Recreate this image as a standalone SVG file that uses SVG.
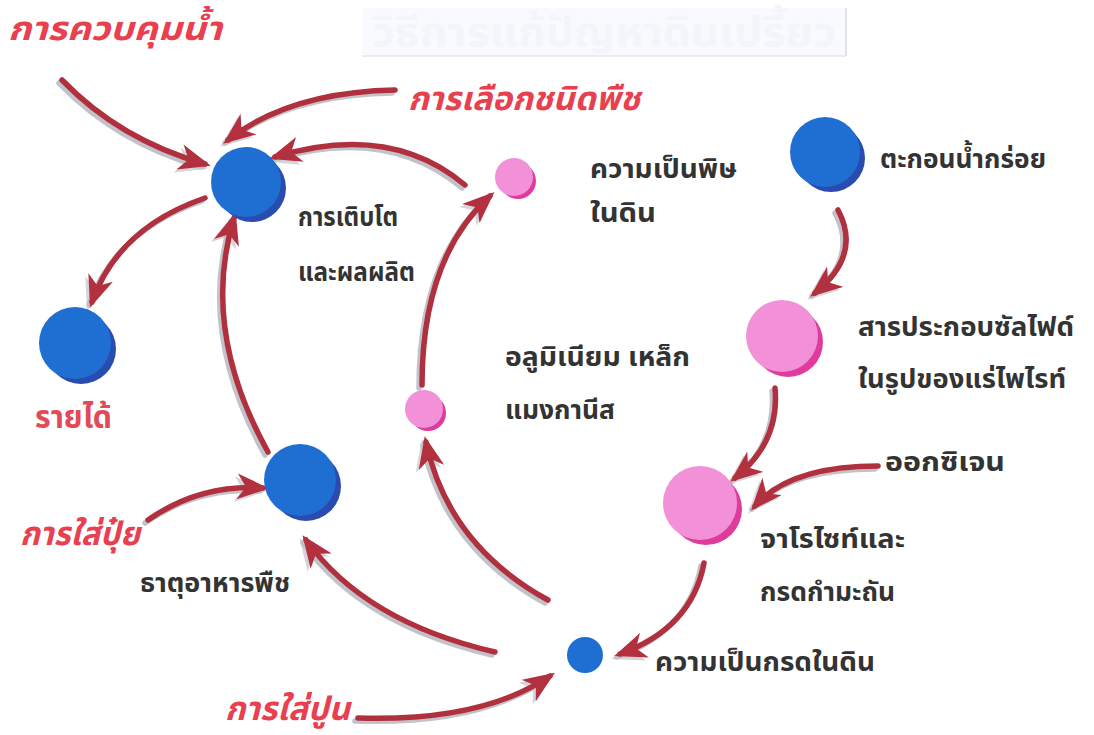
<svg xmlns="http://www.w3.org/2000/svg" width="1094" height="735" viewBox="0 0 1094 735">
<style>
.lbl{font-family:"Noto Sans Thai","Noto Serif Thai","Loma","Garuda","DejaVu Sans",sans-serif;font-size:27px;font-weight:bold;fill:#333333}
.red{font-family:"Noto Sans Thai","Loma","Garuda","DejaVu Sans",sans-serif;font-size:33px;font-weight:bold;font-style:italic;fill:#e8404f}
.redn{font-family:"Noto Sans Thai","Loma","Garuda","DejaVu Sans",sans-serif;font-size:31px;font-weight:bold;fill:#e24a55}
.title{font-family:"Noto Sans Thai","Loma","DejaVu Sans",sans-serif;font-size:40px;font-weight:bold;fill:#f3f5fa}
.arr{fill:none;stroke:#b0303e;stroke-width:5.5;stroke-linecap:round}
.sh{fill:none;stroke:#a9a9b6;stroke-width:5.5;stroke-linecap:round;opacity:0.7}
.bm{fill:#1f6fd2}.bs{fill:#2a4bb0}
.pm{fill:#f290d8}.ps{fill:#df3b9c}
</style>
<defs>
<marker id="ah" viewBox="0 0 32 26" refX="26" refY="13" markerWidth="32" markerHeight="26" markerUnits="userSpaceOnUse" orient="auto">
<path d="M0,0 L32,13 L0,26 L9,13 Z" fill="#b3303e"/>
</marker>
<marker id="ahs" viewBox="0 0 32 26" refX="26" refY="13" markerWidth="32" markerHeight="26" markerUnits="userSpaceOnUse" orient="auto">
<path d="M0,0 L32,13 L0,26 L9,13 Z" fill="#a9a9b6" opacity="0.7"/>
</marker>
</defs>
<rect width="1094" height="735" fill="#ffffff"/>
<g id="title">
<rect x="362" y="8" width="484" height="48" fill="#f8fafd"/>
<line x1="362" y1="56" x2="846" y2="56" stroke="#e4e6ee" stroke-width="1.5"/>
<line x1="846" y1="8" x2="846" y2="56" stroke="#d8dae2" stroke-width="1.5"/>
<text class="title" x="372" y="46" textLength="464" lengthAdjust="spacingAndGlyphs">วิธีการแก้ปัญหาดินเปรี้ยว</text>
</g>
<g id="connectors">
<g transform="translate(-3,3)">
<path class="sh" marker-end="url(#ahs)" d="M62,80 Q120,140 205,164"/>
<path class="sh" marker-end="url(#ahs)" d="M395,90 Q290,92 228,140"/>
<path class="sh" marker-end="url(#ahs)" d="M465,185 Q390,122 275,157"/>
<path class="sh" marker-end="url(#ahs)" d="M205,198 Q118,228 92,302"/>
<path class="sh" marker-end="url(#ahs)" d="M268,452 Q200,330 234,218"/>
<path class="sh" marker-end="url(#ahs)" d="M422,385 Q422,258 490,196"/>
<path class="sh" marker-end="url(#ahs)" d="M548,600 Q448,545 426,442"/>
<path class="sh" marker-end="url(#ahs)" d="M495,652 Q365,622 306,540"/>
<path class="sh" marker-end="url(#ahs)" d="M148,520 Q200,484 263,488"/>
<path class="sh" marker-end="url(#ahs)" d="M358,718 Q482,722 550,676"/>
<path class="sh" marker-end="url(#ahs)" d="M838,210 Q862,255 815,293"/>
<path class="sh" marker-end="url(#ahs)" d="M775,388 Q780,442 735,478"/>
<path class="sh" marker-end="url(#ahs)" d="M878,466 Q790,466 755,506"/>
<path class="sh" marker-end="url(#ahs)" d="M704,563 Q692,628 620,654"/>
</g>
<path class="arr" marker-end="url(#ah)" d="M62,80 Q120,140 205,164"/>
<path class="arr" marker-end="url(#ah)" d="M395,90 Q290,92 228,140"/>
<path class="arr" marker-end="url(#ah)" d="M465,185 Q390,122 275,157"/>
<path class="arr" marker-end="url(#ah)" d="M205,198 Q118,228 92,302"/>
<path class="arr" marker-end="url(#ah)" d="M268,452 Q200,330 234,218"/>
<path class="arr" marker-end="url(#ah)" d="M422,385 Q422,258 490,196"/>
<path class="arr" marker-end="url(#ah)" d="M548,600 Q448,545 426,442"/>
<path class="arr" marker-end="url(#ah)" d="M495,652 Q365,622 306,540"/>
<path class="arr" marker-end="url(#ah)" d="M148,520 Q200,484 263,488"/>
<path class="arr" marker-end="url(#ah)" d="M358,718 Q482,722 550,676"/>
<path class="arr" marker-end="url(#ah)" d="M838,210 Q862,255 815,293"/>
<path class="arr" marker-end="url(#ah)" d="M775,388 Q780,442 735,478"/>
<path class="arr" marker-end="url(#ah)" d="M878,466 Q790,466 755,506"/>
<path class="arr" marker-end="url(#ah)" d="M704,563 Q692,628 620,654"/>
</g>
<g id="n-water"><text class="red" x="8" y="40" textLength="214" lengthAdjust="spacingAndGlyphs">การควบคุมน้ำ</text></g>
<g id="n-crop"><text class="red" x="408" y="110" textLength="232" lengthAdjust="spacingAndGlyphs">การเลือกชนิดพืช</text></g>
<g id="n-growth">
<circle class="bs" cx="252" cy="188" r="34"/><circle class="bm" cx="246" cy="182" r="35"/>
<text class="lbl" x="298" y="226" textLength="100" lengthAdjust="spacingAndGlyphs">การเติบโต</text>
<text class="lbl" x="298" y="281" textLength="117" lengthAdjust="spacingAndGlyphs">และผลผลิต</text>
</g>
<g id="n-toxic">
<circle class="ps" cx="518" cy="181" r="18"/><circle class="pm" cx="514" cy="177" r="19"/>
<text class="lbl" x="590" y="178" textLength="147" lengthAdjust="spacingAndGlyphs">ความเป็นพิษ</text>
<text class="lbl" x="590" y="222" textLength="66" lengthAdjust="spacingAndGlyphs">ในดิน</text>
</g>
<g id="n-sediment">
<circle class="bs" cx="831" cy="158" r="34"/><circle class="bm" cx="825" cy="152" r="35"/>
<text class="lbl" x="880" y="168" textLength="166" lengthAdjust="spacingAndGlyphs">ตะกอนน้ำกร่อย</text>
</g>
<g id="n-sulfide">
<circle class="ps" cx="788" cy="342" r="35"/><circle class="pm" cx="782" cy="336" r="36"/>
<text class="lbl" x="858" y="336" textLength="216" lengthAdjust="spacingAndGlyphs">สารประกอบซัลไฟด์</text>
<text class="lbl" x="858" y="388" textLength="208" lengthAdjust="spacingAndGlyphs">ในรูปของแร่ไพไรท์</text>
</g>
<g id="n-metal">
<circle class="ps" cx="428" cy="413" r="18"/><circle class="pm" cx="424" cy="409" r="19"/>
<text class="lbl" x="505" y="366" textLength="185" lengthAdjust="spacingAndGlyphs">อลูมิเนียม เหล็ก</text>
<text class="lbl" x="505" y="419" textLength="110" lengthAdjust="spacingAndGlyphs">แมงกานีส</text>
</g>
<g id="n-income">
<circle class="bs" cx="81" cy="349" r="35"/><circle class="bm" cx="75" cy="343" r="36"/>
<text class="redn" x="35" y="428" textLength="77" lengthAdjust="spacingAndGlyphs">รายได้</text>
</g>
<g id="n-nutrient">
<circle class="bs" cx="306" cy="486" r="35"/><circle class="bm" cx="300" cy="480" r="36"/>
<text class="lbl" x="140" y="592" textLength="150" lengthAdjust="spacingAndGlyphs">ธาตุอาหารพืช</text>
</g>
<g id="n-fert"><text class="red" x="20" y="545" textLength="120" lengthAdjust="spacingAndGlyphs">การใส่ปุ๋ย</text></g>
<g id="n-jarosite">
<circle class="ps" cx="706" cy="509" r="36"/><circle class="pm" cx="700" cy="503" r="37"/>
<text class="lbl" x="760" y="548" textLength="145" lengthAdjust="spacingAndGlyphs">จาโรไซท์และ</text>
<text class="lbl" x="760" y="601" textLength="135" lengthAdjust="spacingAndGlyphs">กรดกำมะถัน</text>
</g>
<g id="n-oxygen"><text class="lbl" x="885" y="471" textLength="120" lengthAdjust="spacingAndGlyphs">ออกซิเจน</text></g>
<g id="n-acidity">
<circle class="bm" cx="585" cy="655" r="18"/>
<text class="lbl" x="655" y="671" textLength="220" lengthAdjust="spacingAndGlyphs">ความเป็นกรดในดิน</text>
</g>
<g id="n-lime"><text class="red" x="225" y="720" textLength="125" lengthAdjust="spacingAndGlyphs">การใส่ปูน</text></g>
</svg>
